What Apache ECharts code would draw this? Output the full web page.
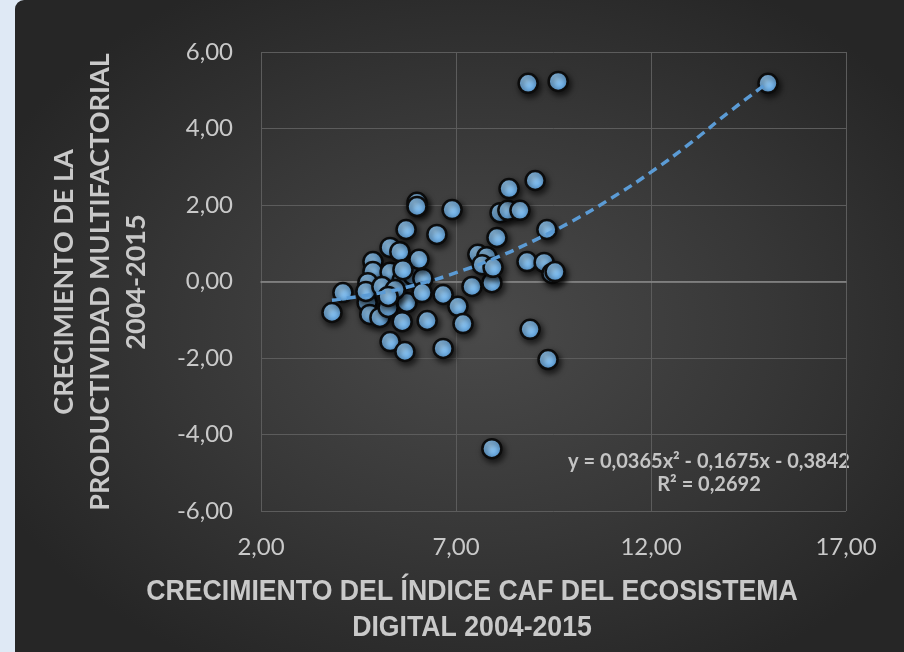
<!DOCTYPE html>
<html>
<head>
<meta charset="utf-8">
<script src="https://cdn.jsdelivr.net/npm/echarts@6/dist/echarts.min.js"></script>
<style>
  html, body { margin: 0; padding: 0; background: #dfe9f5; }
  #bg {
    position: absolute; left: 15px; top: 0; width: 889px; height: 652px;
    border-top-left-radius: 9px;
    background: radial-gradient(ellipse 60% 60% at 52% 50%, #4a4a4a 0%, #373737 55%, #262626 100%);
  }
  #chart { position: absolute; left: 0; top: 0; width: 904px; height: 652px; }
</style>
</head>
<body>
<div id="bg"></div>
<div id="chart"></div>
<script>
// crecimiento del indice CAF (x) vs productividad multifactorial (y)
const xValues = [3.82, 4.10, 4.87, 4.87, 4.74, 4.72, 4.79, 5.05, 5.26, 5.31,
                 5.31, 5.56, 5.62, 5.74, 5.62, 5.31, 5.69, 5.90, 6.15, 6.13,
                 6.05, 5.72, 6.00, 6.00, 6.51, 6.90, 6.67, 6.26, 6.67, 7.05,
                 7.18, 7.41, 7.92, 7.56, 7.79, 7.67, 7.95, 8.05, 8.13, 8.33,
                 8.64, 8.36, 9.03, 9.33, 8.82, 9.26, 9.46, 9.54, 8.90, 9.36,
                 7.92, 8.85, 9.62, 15.00, 4.69, 5.10, 5.44, 5.26, 5.64];
const yValues = [-0.81, -0.29, 0.52, 0.26, -0.03, -0.55, -0.86, -0.94, -0.68, 0.24,
                 0.89, 0.78, 0.03, -0.55, -1.05, -1.57, -1.83, 0.16, 0.08, -0.29,
                 0.58, 1.36, 2.07, 1.96, 1.23, 1.88, -0.34, -1.02, -1.75, -0.65,
                 -1.10, -0.13, -0.03, 0.71, 0.65, 0.44, 0.37, 1.15, 1.80, 1.86,
                 1.86, 2.43, 2.64, 1.36, 0.52, 0.50, 0.21, 0.26, -1.25, -2.04,
                 -4.37, 5.18, 5.23, 5.18, -0.26, -0.13, -0.21, -0.39, 0.31];

// linea de tendencia polinomica
const trendX = [3.82, 5, 6, 7, 8, 9, 10, 11, 12, 13, 14, 15];
const trendY = [-0.49, -0.31, -0.08, 0.23, 0.61, 1.07, 1.59, 2.19, 2.86, 3.61, 4.43, 5.2];

const xTicks = [2, 7, 12, 17];
const eqText = 'y = 0,0365x² - 0,1675x - 0,3842';
const r2Text = 'R² = 0,2692';
const xTitle = 'CRECIMIENTO DEL ÍNDICE CAF DEL ECOSISTEMA\nDIGITAL 2004-2015';
const yTitle = 'CRECIMIENTO DE LA\nPRODUCTIVIDAD MULTIFACTORIAL\n2004-2015';

const txt = '#c9c9c9';
const fmt = v => v.toFixed(2).replace('.', ',');

const points = xValues.map((x, i) => [x, yValues[i]]);
const trend  = trendX.map((x, i) => [x, trendY[i]]);

const chart = echarts.init(document.getElementById('chart'));
chart.setOption({
    backgroundColor: 'transparent',
    animation: false,
    grid: { left: 261, right: 58, top: 52, bottom: 141 },
    xAxis: {
        type: 'value', min: 2, max: 17,
        axisLine: { show: true, onZero: true, lineStyle: { color: '#8a8a8a', width: 1.5 } },
        axisTick: { show: false, customValues: xTicks },
        axisLabel: { customValues: xTicks, formatter: fmt, color: txt, fontSize: 24,
                     fontFamily: 'Lato', margin: 24 },
        splitLine: { show: true, lineStyle: { color: '#5c5c5c', width: 1 } }
    },
    yAxis: {
        type: 'value', min: -6, max: 6, interval: 2,
        axisLine: { show: false },
        axisTick: { show: false },
        axisLabel: { formatter: fmt, color: txt, fontSize: 24, fontFamily: 'Lato', margin: 28 },
        splitLine: { show: true, lineStyle: { color: '#5c5c5c', width: 1 } }
    },
    graphic: [
        { type: 'text', x: 472, y: 574, scaleX: 0.92,
          style: { text: xTitle, fill: txt, font: 'bold 29px "Liberation Sans"',
                   textAlign: 'center', lineHeight: 36 } },
        { type: 'text', x: 100, y: 282, rotation: Math.PI / 2,
          style: { text: yTitle, fill: txt, font: 'bold 27px Lato',
                   textAlign: 'center', textVerticalAlign: 'middle', lineHeight: 36 } },
        { type: 'text', x: 709, y: 462,
          style: { text: eqText, fill: '#c4c4c4', font: 'bold 20px Lato',
                   textAlign: 'center', textVerticalAlign: 'middle' } },
        { type: 'text', x: 709, y: 485,
          style: { text: r2Text, fill: '#c4c4c4', font: 'bold 20px Lato',
                   textAlign: 'center', textVerticalAlign: 'middle' } }
    ],
    series: [
        {
            type: 'scatter',
            data: points,
            symbolSize: 19,
            itemStyle: {
                opacity: 1,
                color: { type: 'radial', x: 0.4, y: 0.35, r: 0.7,
                         colorStops: [{ offset: 0, color: '#9fd2f8' }, { offset: 1, color: '#5aa2e2' }] },
                borderColor: '#0c0c0c', borderWidth: 2.5,
                shadowBlur: 6, shadowColor: 'rgba(0,0,0,0.7)', shadowOffsetX: 2, shadowOffsetY: 3
            }
        },
        {
            type: 'line',
            data: trend,
            smooth: true,
            showSymbol: false,
            lineStyle: { color: '#5b9bd5', width: 3.5, type: [9, 6] },
            z: 5
        }
    ]
});
</script>
</body>
</html>
